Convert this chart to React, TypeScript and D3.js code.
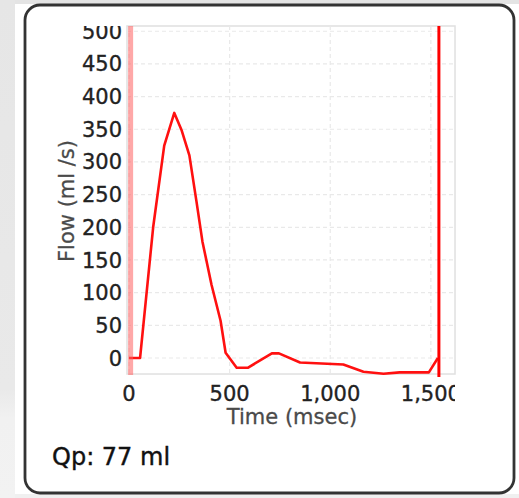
import React from "react";
import * as d3 from "d3";

const times = [0, 55, 120, 175, 225, 262, 300, 335, 365, 410, 455, 480, 535, 590, 710, 745, 850, 1065, 1165, 1265, 1345, 1490, 1535];
const flows = [0, 0, 200, 325, 375, 348, 310, 240, 178, 112, 57, 8, -15, -15, 7, 7, -7, -10, -21, -24, -22, -22, 0];
const xTicks = [0, 500, 1000, 1500];
const yTicks = [0, 50, 100, 150, 200, 250, 300, 350, 400, 450, 500];
const markerTimes = [8, 1540];
const xTitle = "Time (msec)";
const yTitle = "Flow (ml /s)";
const summary = "Qp: 77 ml";

const W = 519;
const H = 498;
const plot = { left: 127, right: 455, top: 26, bottom: 374 };
const FONT = "'DejaVu Sans', Verdana, sans-serif";

export default function App() {
  const x = d3.scaleLinear().domain([-10, 1620]).range([plot.left, plot.right]);
  const y = d3.scaleLinear().domain([-24.5, 508]).range([plot.bottom, plot.top]);
  const pts = times.map((t, i) => [t, flows[i]] as [number, number]);
  const line = d3
    .line<[number, number]>()
    .x((d) => x(d[0]))
    .y((d) => y(d[1]));
  const fmt = d3.format(",");

  return (
    <svg
      width={W}
      height={H}
      style={{ position: "absolute", left: 0, top: 0, display: "block" }}
    >
      <defs>
        <clipPath id="labelClip">
          <rect x={0} y={plot.top} width={plot.right} height={H} />
        </clipPath>
        <clipPath id="plotClip">
          <rect x={plot.left} y={plot.top - 2} width={plot.right - plot.left} height={plot.bottom - plot.top + 4} />
        </clipPath>
        <linearGradient id="leftBg" x1="0" y1="0" x2="0" y2="1">
          <stop offset="0" stopColor="#e6e6e6" />
          <stop offset="0.78" stopColor="#e9e9e9" />
          <stop offset="0.84" stopColor="#f1f1f1" />
          <stop offset="1" stopColor="#f2f2f2" />
        </linearGradient>
      </defs>
      {/* page background */}
      <rect x={0} y={0} width={W} height={H} fill="#ffffff" />
      <rect x={0} y={0} width={15} height={H} fill="url(#leftBg)" />
      <rect x={15} y={0} width={W - 15} height={4} fill="#e4e4e4" />
      <rect x={15} y={494} width={W - 15} height={4} fill="#f0f0f0" />

      {/* card */}
      <rect x={25} y={5} width={489} height={488} rx={15} ry={15} fill="#ffffff" stroke="#333333" strokeWidth={2.8} />

      {/* plot frame */}
      <rect
        x={plot.left}
        y={plot.top}
        width={plot.right - plot.left}
        height={plot.bottom - plot.top}
        fill="#ffffff"
        stroke="#e0e0e0"
        strokeWidth={1.5}
      />
      {/* gridlines */}
      {yTicks.map((v) => (
        <line
          key={"gy" + v}
          x1={plot.left}
          x2={plot.right}
          y1={y(v)}
          y2={y(v)}
          stroke="#e9e9e9"
          strokeWidth={1.2}
          strokeDasharray="4,3"
        />
      ))}
      {xTicks.map((v) => (
        <line
          key={"gx" + v}
          x1={x(v)}
          x2={x(v)}
          y1={plot.top}
          y2={plot.bottom}
          stroke="#e9e9e9"
          strokeWidth={1.2}
          strokeDasharray="4,3"
        />
      ))}

      {/* data line */}
      <g clipPath="url(#plotClip)">
        <path d={line(pts) || ""} fill="none" stroke="#ff1010" strokeWidth={2.6} strokeLinejoin="round" />
      </g>

      {/* markers */}
      <line
        x1={x(markerTimes[0])}
        x2={x(markerTimes[0])}
        y1={plot.top}
        y2={plot.bottom + 1}
        stroke="#ff6060"
        strokeOpacity={0.55}
        strokeWidth={5}
      />
      <line
        x1={x(markerTimes[1])}
        x2={x(markerTimes[1])}
        y1={plot.top}
        y2={plot.bottom + 3}
        stroke="#ff0000"
        strokeWidth={3}
      />

      {/* tick labels */}
      <g clipPath="url(#labelClip)" fontFamily={FONT} fontSize={21} fill="#222" stroke="#222" strokeWidth={0.35}>
        {yTicks.map((v) => (
          <text key={"ty" + v} x={122} y={y(v)} dy="0.36em" textAnchor="end">
            {fmt(v)}
          </text>
        ))}
        {xTicks.map((v) => (
          <text key={"tx" + v} x={x(v)} y={401} textAnchor="middle">
            {fmt(v)}
          </text>
        ))}
      </g>

      {/* axis titles */}
      <text x={292} y={424} textAnchor="middle" fontFamily={FONT} fontSize={21} fill="#4a4a4a" stroke="#4a4a4a" strokeWidth={0.3}>
        {xTitle}
      </text>
      <text
        transform={`translate(74, 201) rotate(-90)`}
        textAnchor="middle"
        fontFamily={FONT}
        fontSize={21}
        fill="#4a4a4a"
        stroke="#4a4a4a"
        strokeWidth={0.3}
      >
        {yTitle}
      </text>

      {/* summary */}
      <text x={52} y={465} fontFamily={FONT} fontSize={24} fill="#111" stroke="#111" strokeWidth={0.4}>
        {summary}
      </text>
    </svg>
  );
}
